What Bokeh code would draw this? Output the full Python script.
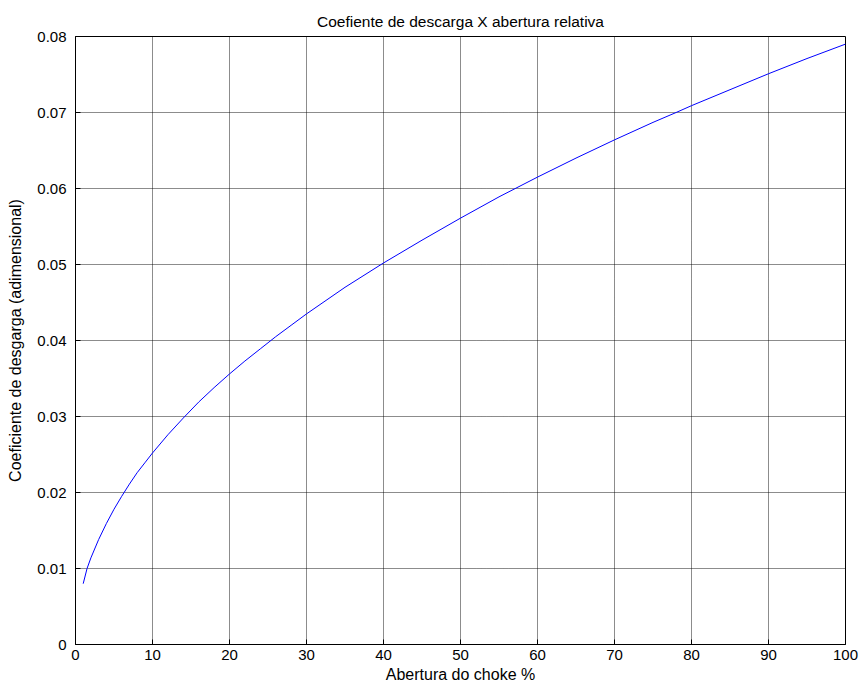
from bokeh.plotting import figure
from bokeh.models import Range1d, FixedTicker
from bokeh.embed import file_html
from bokeh.resources import INLINE

# Data
abertura = [1, 1.5, 2, 3, 4, 5, 6, 7, 8, 9, 10, 12, 14, 16, 18, 20, 22, 24, 26, 28,
            30, 35, 40, 45, 50, 55, 60, 65, 70, 75, 78, 80, 85, 90, 95, 100]
coef = [0.0080, 0.0100, 0.0114, 0.0138, 0.0159, 0.0178, 0.0195, 0.0211, 0.0226, 0.0239,
        0.0252, 0.0276, 0.0298, 0.0319, 0.0338, 0.0356, 0.0373, 0.0389, 0.0405, 0.0420,
        0.0435, 0.0470, 0.0502, 0.0532, 0.0561, 0.0589, 0.0615, 0.0640, 0.0664,
        0.0687, 0.0700, 0.0709, 0.0730, 0.0751, 0.0771, 0.0790]
x_ticks = [0, 10, 20, 30, 40, 50, 60, 70, 80, 90, 100]
y_ticks = [0, 0.01, 0.02, 0.03, 0.04, 0.05, 0.06, 0.07, 0.08]

FONT = "Liberation Sans"
TICK_FS = "15px"
LABEL_FS = "16px"

p = figure(width=860, height=688, output_backend="svg", toolbar_location=None,
           x_range=Range1d(0, 100), y_range=Range1d(0, 0.08),
           min_border_left=75, min_border_right=15, min_border_top=36, min_border_bottom=44,
           title="Coefiente de descarga X abertura relativa")

p.title.align = "center"
p.title.text_font = FONT
p.title.text_font_size = "15.5px"
p.title.text_font_style = "normal"
p.title.text_color = "black"
p.title.standoff = 13

p.line(abertura, coef, line_color="#0000ff", line_width=1)

p.outline_line_color = "black"
p.outline_line_width = 1
p.background_fill_color = "white"
p.border_fill_color = "white"

for ax in (p.xaxis[0], p.yaxis[0]):
    ax.major_label_text_font = FONT
    ax.major_label_text_font_size = TICK_FS
    ax.major_label_text_color = "black"
    ax.axis_label_text_font = FONT
    ax.axis_label_text_font_size = LABEL_FS
    ax.axis_label_text_font_style = "normal"
    ax.axis_label_text_color = "black"
    ax.axis_line_color = "black"
    ax.major_tick_line_color = "black"
    ax.major_tick_in = 5
    ax.major_tick_out = 0
    ax.minor_tick_line_color = None

p.xaxis[0].ticker = FixedTicker(ticks=x_ticks)
p.yaxis[0].ticker = FixedTicker(ticks=y_ticks)
p.yaxis[0].major_label_overrides = {0: "0"}
p.xaxis[0].axis_label = "Abertura do choke %"
p.yaxis[0].axis_label = "Coeficiente de desgarga (adimensional)"
p.xaxis[0].major_label_standoff = 5
p.xaxis[0].axis_label_standoff = 3
p.yaxis[0].major_label_standoff = 9
p.yaxis[0].axis_label_standoff = 10

p.grid.grid_line_color = "black"
p.grid.grid_line_alpha = 0.9
p.grid.grid_line_dash = "1 1"
p.xgrid.ticker = FixedTicker(ticks=x_ticks)
p.ygrid.ticker = FixedTicker(ticks=y_ticks)

open("out.html", "w").write(file_html(p, INLINE))
